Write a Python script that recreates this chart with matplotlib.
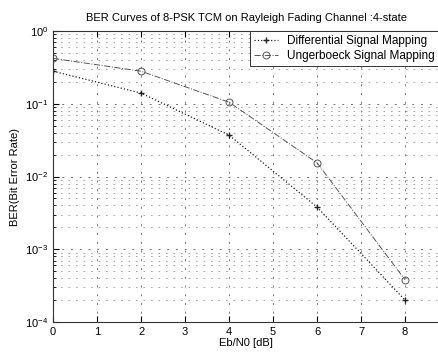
import numpy as np
import matplotlib
matplotlib.use("Agg")
import matplotlib.pyplot as plt
from matplotlib.ticker import LogLocator, FixedLocator

# ---------- Dados ----------
ebn0 = [0, 2, 4, 6, 8]
ber_diferencial = [0.28, 0.14, 0.037, 0.0038, 0.0002]
ber_ungerboeck = [0.42, 0.28, 0.105, 0.0154, 0.00038]
rotulos = ["Differential Signal Mapping", "Ungerboeck Signal Mapping"]
x_ticks = [0, 1, 2, 3, 4, 5, 6, 7, 8]

plt.rcParams["font.family"] = ["Liberation Sans", "DejaVu Sans"]
plt.rcParams["font.size"] = 8

fig = plt.figure(figsize=(4.39, 3.52), dpi=100)
ax = fig.add_axes([0.121, 0.085, 0.879, 0.827])

ax.semilogy(ebn0, ber_diferencial, linestyle=":", marker="+", color="#222222",
            linewidth=0.9, markersize=5, markeredgewidth=1.0, label=rotulos[0])
ax.semilogy(ebn0, ber_ungerboeck, linestyle="-.", marker="o", color="#555555",
            linewidth=0.7, markersize=5, markerfacecolor="none",
            markeredgewidth=0.7, label=rotulos[1])

ax.set_xlim(0, 8.77)
ax.set_ylim(1e-4, 1)
ax.xaxis.set_major_locator(FixedLocator(x_ticks))
ax.yaxis.set_major_locator(LogLocator(base=10, numticks=10))
ax.yaxis.set_minor_locator(LogLocator(base=10, subs=np.arange(2, 10), numticks=10))

ax.grid(True, which="major", linestyle=(0, (2, 7)), color="#777777", linewidth=0.7)
ax.grid(True, which="minor", axis="y", linestyle=(0, (2, 7)), color="#999999", linewidth=0.6)
ax.tick_params(which="both", direction="in", top=True, right=False)
ax.tick_params(which="major", length=4)
ax.tick_params(which="minor", length=2)

for s in ax.spines.values():
    s.set_color("#333333")
    s.set_linewidth(0.8)

ax.set_title("BER Curves of 8-PSK TCM on Rayleigh Fading Channel :4-state", fontsize=8, pad=7)
ax.set_xlabel("Eb/N0 [dB]", labelpad=1)
ax.set_ylabel("BER(Bit Error Rate)")

leg = ax.legend(loc="upper right", borderaxespad=0, fancybox=False, framealpha=1,
                edgecolor="#333333", handlelength=2.0, fontsize=8.5,
                borderpad=0.35, labelspacing=0.25)
leg.get_frame().set_linewidth(0.7)

fig.savefig("out.png", dpi=100)
